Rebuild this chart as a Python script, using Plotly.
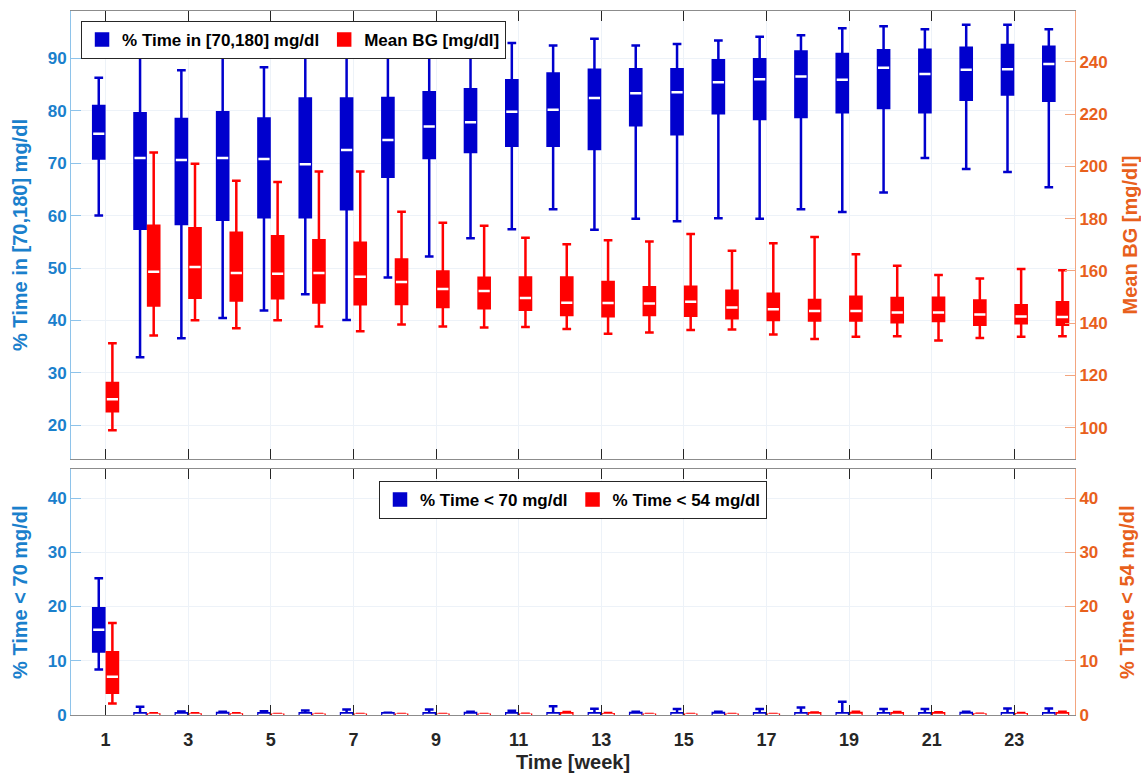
import plotly.graph_objects as go

# ---------------- data ----------------
weeks = list(range(1, 25))
tick_weeks = list(range(1, 25, 2))

# % Time in [70,180] mg/dl  (top panel, left axis)
tir_low = [60.0, 33.0, 36.6, 40.5, 41.9, 45.0, 40.1, 48.2, 52.2, 55.7, 57.4, 61.2,
           57.3, 59.4, 58.9, 59.5, 59.4, 61.2, 60.7, 64.4, 71.0, 68.9, 68.3, 65.4]
tir_q1 = [70.9, 57.5, 58.4, 59.2, 59.7, 59.7, 61.2, 67.4, 71.0, 72.1, 73.3, 73.3,
          72.7, 77.2, 75.5, 79.5, 78.4, 78.8, 79.7, 80.5, 79.7, 82.1, 83.1, 81.9]
tir_med = [75.6, 71.0, 70.6, 71.0, 70.8, 69.8, 72.5, 74.4, 77.0, 77.8, 79.8, 80.2,
           82.4, 83.3, 83.5, 85.4, 86.0, 86.5, 85.9, 88.2, 87.0, 87.8, 87.9, 88.9]
tir_q3 = [80.9, 79.5, 78.4, 79.7, 78.5, 82.3, 82.3, 82.4, 83.5, 84.1, 85.8, 87.1,
          87.8, 87.9, 87.9, 89.6, 89.8, 91.3, 90.8, 91.5, 91.6, 92.0, 92.5, 92.2]
tir_high = [86.3, 90.9, 87.7, 90.4, 88.3, 90.7, 90.4, 91.8, 91.5, 91.7, 92.9, 92.4,
            93.7, 92.4, 92.7, 93.4, 94.1, 94.4, 95.7, 96.1, 95.5, 96.4, 96.4, 95.5]

# Mean BG [mg/dl]  (top panel, right axis)
bg_low = [99.0, 135.3, 141.1, 138.1, 141.1, 138.7, 136.9, 139.5, 138.7, 138.3, 138.5, 137.8,
          136.0, 136.4, 137.4, 137.6, 135.7, 133.9, 134.8, 135.0, 133.4, 134.3, 134.8, 135.0]
bg_q1 = [106.3, 146.8, 149.7, 148.7, 149.5, 147.9, 147.2, 147.3, 146.2, 145.7, 145.1, 143.1,
         142.7, 143.1, 142.8, 141.9, 141.2, 141.0, 141.0, 140.4, 140.8, 139.4, 140.0, 139.4]
bg_med = [110.9, 159.7, 161.5, 159.2, 158.9, 159.2, 157.8, 155.8, 153.1, 152.3, 149.6, 147.8,
          147.7, 147.5, 148.2, 146.0, 145.3, 144.7, 144.7, 144.1, 144.1, 143.3, 142.6, 142.4]
bg_q3 = [117.1, 177.3, 176.3, 174.6, 173.3, 171.7, 170.8, 164.4, 159.8, 157.4, 157.5, 157.5,
         155.8, 153.8, 153.9, 152.4, 151.3, 148.9, 150.1, 149.6, 149.7, 148.7, 146.9, 148.0]
bg_high = [132.3, 205.3, 201.0, 194.5, 194.0, 198.1, 198.1, 182.7, 178.4, 177.3, 172.7, 170.2,
           171.7, 171.3, 174.1, 167.7, 170.6, 173.0, 166.4, 162.0, 158.4, 157.1, 160.7, 160.3]

# % Time < 70 mg/dl  (bottom panel, left axis)
lo70_low = [8.4] + [0.0] * 23
lo70_q1 = [11.7] + [0.0] * 23
lo70_med = [15.7] + [0.0] * 23
lo70_q3 = [19.7, 0.3, 0.3, 0.35, 0.3, 0.3, 0.3, 0.3, 0.3, 0.35, 0.3, 0.3,
           0.3, 0.35, 0.3, 0.35, 0.3, 0.3, 0.3, 0.3, 0.3, 0.35, 0.3, 0.3]
lo70_high = [25.2, 1.5, 0.65, 0.6, 0.7, 0.85, 1.0, 0.4, 1.0, 0.6, 0.8, 1.6,
             1.15, 0.6, 1.1, 0.6, 1.1, 1.4, 2.45, 1.1, 1.1, 0.6, 1.2, 1.2]

# % Time < 54 mg/dl  (bottom panel, right axis)
lo54_low = [2.1] + [0.0] * 23
lo54_q1 = [4.1] + [0.0] * 23
lo54_med = [7.05] + [0.0] * 23
lo54_q3 = [11.55, 0.1, 0.1, 0.1, 0.05, 0.05, 0.05, 0.05, 0.05, 0.05, 0.05, 0.3,
           0.15, 0.05, 0.05, 0.05, 0.05, 0.3, 0.35, 0.3, 0.3, 0.1, 0.15, 0.3]
lo54_high = [16.95, 0.3, 0.3, 0.3, 0.2, 0.2, 0.2, 0.2, 0.2, 0.2, 0.25, 0.55,
             0.35, 0.2, 0.2, 0.2, 0.2, 0.45, 0.6, 0.55, 0.5, 0.25, 0.35, 0.6]

# ---------------- style ----------------
BLUE = "#0000CD"
RED = "#FF0000"
LEFT_C = "#1A80CC"
RIGHT_C = "#E8601C"
DARK = "#262626"
GRID = "#EDF2F8"
FONT = "Liberation Sans"
DODGE = 0.165
BOX_W = 0.27

fig = go.Figure()


def add_series(x, low, q1, med, q3, high, color, name, xa, ya, legend):
    fig.add_trace(go.Box(
        x=x, lowerfence=low, q1=q1, median=med, q3=q3, upperfence=high,
        name=name, fillcolor=color, line=dict(color=color, width=2.5),
        width=BOX_W, whiskerwidth=0.78, boxpoints=False,
        xaxis=xa, yaxis=ya, legend=legend, hoverinfo="skip"))
    # white median line overlay
    fig.add_trace(go.Box(
        x=x, lowerfence=med, q1=med, median=med, q3=med, upperfence=med,
        fillcolor="white", line=dict(color="white", width=2.5),
        width=BOX_W, whiskerwidth=0, boxpoints=False, showlegend=False,
        xaxis=xa, yaxis=ya, hoverinfo="skip"))


x_left = [w - DODGE for w in weeks]
x_right = [w + DODGE for w in weeks]

add_series(x_left, tir_low, tir_q1, tir_med, tir_q3, tir_high, BLUE,
           "% Time in [70,180] mg/dl", "x", "y", "legend")
add_series(x_right, bg_low, bg_q1, bg_med, bg_q3, bg_high, RED,
           "Mean BG [mg/dl]", "x", "y2", "legend")
add_series(x_left, lo70_low, lo70_q1, lo70_med, lo70_q3, lo70_high, BLUE,
           "% Time < 70 mg/dl", "x2", "y3", "legend2")
add_series(x_right, lo54_low, lo54_q1, lo54_med, lo54_q3, lo54_high, RED,
           "% Time < 54 mg/dl", "x2", "y4", "legend2")

XR = [0.163, 24.469]

xcommon = dict(range=XR, tickvals=tick_weeks, ticks="inside", ticklen=10,
               tickcolor=DARK, tickwidth=1, showline=True, linecolor="#8C8C8C",
               linewidth=1, mirror="ticks", showgrid=True, gridcolor=GRID,
               zeroline=False, automargin=False,
               tickfont=dict(size=18, color=DARK, family=FONT, weight="bold"))


def ycommon(color, linecolor, side):
    return dict(ticks="inside", ticklen=10, tickcolor=linecolor, tickwidth=1,
                showline=True, linecolor=linecolor, linewidth=1, zeroline=False,
                automargin=False,
                tickfont=dict(size=17, color=color, family=FONT, weight="bold"),
                side=side)


fig.update_layout(
    width=1141, height=773,
    margin=dict(l=71, r=66, t=11, b=58, autoexpand=False),
    paper_bgcolor="white", plot_bgcolor="white",
    font=dict(family=FONT, weight="bold", color=DARK),
    boxmode="overlay",
    xaxis=dict(domain=[0, 1], anchor="y", showticklabels=False, **xcommon),
    xaxis2=dict(domain=[0, 1], anchor="y3", ticklabelstandoff=8,
                title=dict(text="Time [week]", font=dict(size=20, family=FONT, weight="bold", color=DARK),
                           standoff=14),
                **xcommon),
    yaxis=dict(domain=[0.3636, 1], anchor="x", range=[13.6, 99.0],
               tickvals=[20, 30, 40, 50, 60, 70, 80, 90],
               showgrid=True, gridcolor=GRID,
               title=dict(text="% Time in [70,180] mg/dl",
                          font=dict(size=20, family=FONT, weight="bold", color=LEFT_C), standoff=14),
               **ycommon(LEFT_C, "#8EC3EA", "left")),
    yaxis2=dict(overlaying="y", anchor="x", range=[88.0, 259.5],
                tickvals=[100, 120, 140, 160, 180, 200, 220, 240], showgrid=False,
                title=dict(text="Mean BG [mg/dl]",
                           font=dict(size=20, family=FONT, weight="bold", color=RIGHT_C), standoff=30),
                **ycommon(RIGHT_C, "#F3A57F", "right")),
    yaxis3=dict(domain=[0, 0.349], anchor="x2", range=[0, 45.3],
                tickvals=[0, 10, 20, 30, 40], showgrid=True, gridcolor=GRID,
                title=dict(text="% Time < 70 mg/dl",
                           font=dict(size=20, family=FONT, weight="bold", color=LEFT_C), standoff=14),
                **ycommon(LEFT_C, "#8EC3EA", "left")),
    yaxis4=dict(overlaying="y3", anchor="x2", range=[0, 45.3],
                tickvals=[0, 10, 20, 30, 40], showgrid=False,
                title=dict(text="% Time < 54 mg/dl",
                           font=dict(size=20, family=FONT, weight="bold", color=RIGHT_C), standoff=22),
                **ycommon(RIGHT_C, "#F3A57F", "right")),
    legend=dict(x=0.01, y=0.986, xanchor="left", yanchor="top", orientation="h",
                bgcolor="white", bordercolor=DARK, borderwidth=1,
                font=dict(size=17, family=FONT, weight="bold", color="black")),
    legend2=dict(x=0.5, y=0.3324, xanchor="center", yanchor="top", orientation="h",
                 bgcolor="white", bordercolor=DARK, borderwidth=1,
                 font=dict(size=17, family=FONT, weight="bold", color="black")),
    showlegend=True,
)

fig.write_html("out.html")
